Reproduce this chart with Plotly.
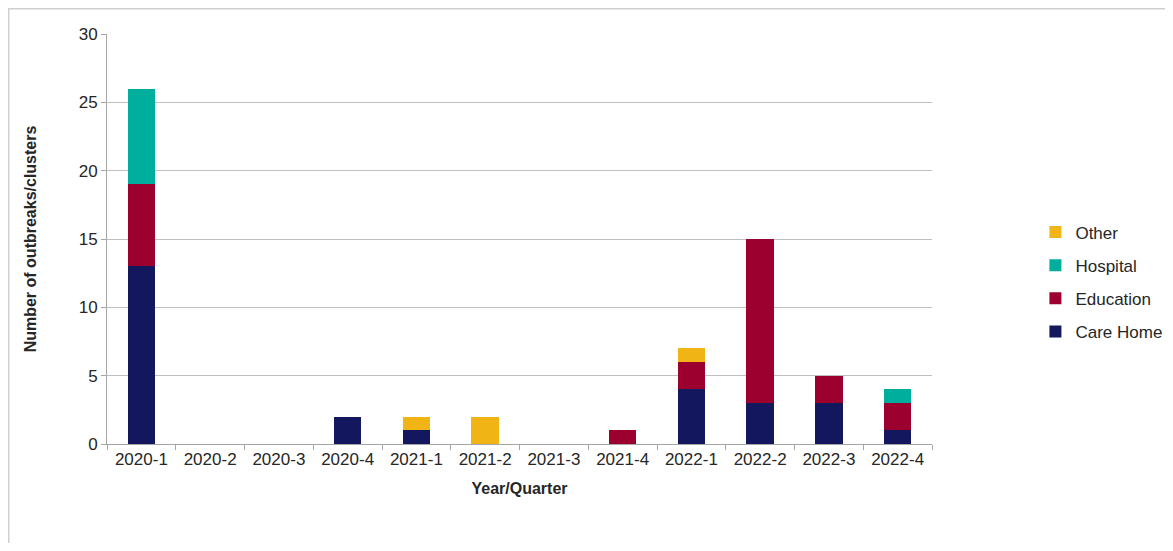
import plotly.graph_objects as go

quarters = ['2020-1', '2020-2', '2020-3', '2020-4', '2021-1', '2021-2',
            '2021-3', '2021-4', '2022-1', '2022-2', '2022-3', '2022-4']
care_home = [13, 0, 0, 2, 1, 0, 0, 0, 4, 3, 3, 1]
education = [6, 0, 0, 0, 0, 0, 0, 1, 2, 12, 2, 2]
hospital = [7, 0, 0, 0, 0, 0, 0, 0, 0, 0, 0, 1]
other = [0, 0, 0, 0, 1, 2, 0, 0, 1, 0, 0, 0]

series = [
    ('Care Home', care_home, '#13175E'),
    ('Education', education, '#9B002F'),
    ('Hospital', hospital, '#00AE9E'),
    ('Other', other, '#F0B415'),
]

fig = go.Figure()
for i, (name, vals, col) in enumerate(series):
    fig.add_trace(go.Bar(
        x=quarters, y=vals, name=name, legendgroup=name,
        legendrank=len(series) - i,  # legend lists Other first
        marker=dict(color=col, line=dict(width=0)),
    ))

# page body adds an 8px margin all round, so keep the figure inside the window
fig.update_layout(
    barmode='stack',
    bargap=0.6,
    width=1157, height=535,
    margin=dict(l=99, r=233, t=26, b=99),
    paper_bgcolor='white',
    plot_bgcolor='white',
    font=dict(family='Liberation Sans, Arial, sans-serif', size=17, color='#262626'),
    showlegend=True,
    legend=dict(
        traceorder='grouped',
        tracegroupgap=8,
        xref='container', x=0.888, xanchor='left',
        y=0.395, yanchor='middle',
        font=dict(size=17, color='#262626'),
        bgcolor='rgba(0,0,0,0)',
    ),
    shapes=[dict(
        type='rect', xref='paper', yref='paper',
        x0=-0.1194, x1=1.4, y0=-0.4, y1=1.0622,
        line=dict(color='#D0D0D0', width=2),
        fillcolor='rgba(0,0,0,0)', layer='below',
    )],
)

fig.update_xaxes(
    type='category',
    title=dict(text='<b>Year/Quarter</b>', font=dict(size=16), standoff=14),
    showline=True, linecolor='#A6A6A6', linewidth=1,
    ticks='outside', tickson='boundaries', ticklen=5, tickcolor='#A6A6A6',
    showgrid=False, automargin=False,
)
fig.update_yaxes(
    title=dict(text='<b>Number of outbreaks/clusters</b>', font=dict(size=16), standoff=38),
    range=[0, 30], dtick=5,
    showline=True, linecolor='#A6A6A6', linewidth=1,
    ticks='outside', ticklen=5, tickcolor='#A6A6A6',
    showgrid=True, gridcolor='#BFBFBF', gridwidth=1,
    zeroline=False, automargin=False,
)

fig.write_html("out.html")
